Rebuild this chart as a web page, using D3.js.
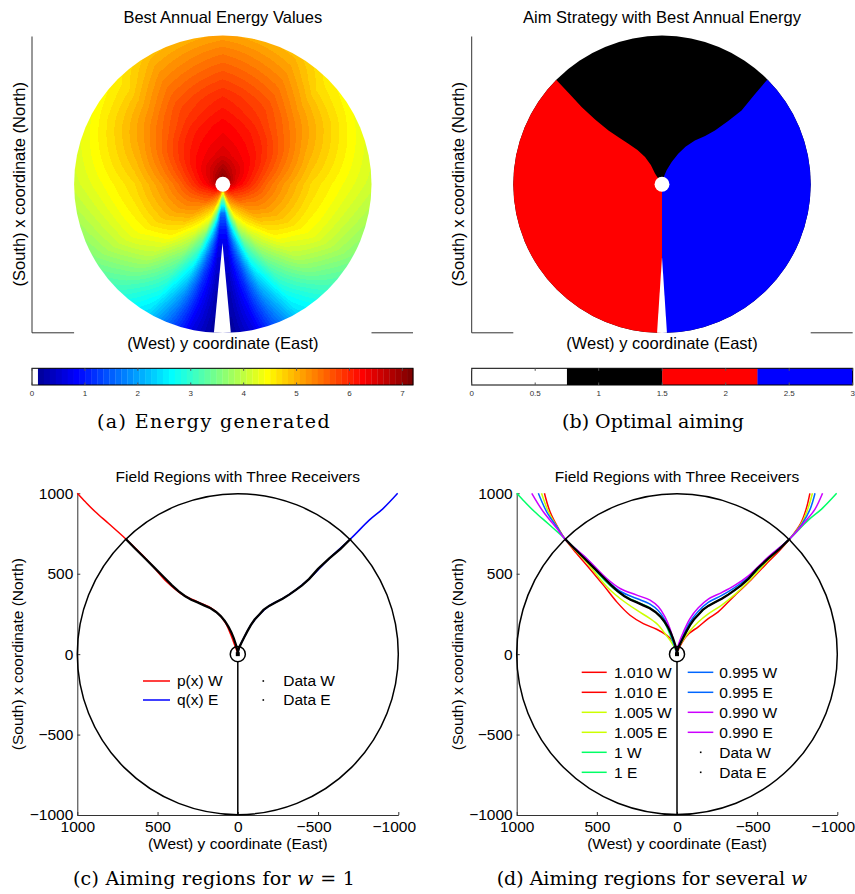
<!DOCTYPE html>
<html>
<head>
<meta charset="utf-8">
<script src="https://cdn.jsdelivr.net/npm/d3@7"></script>
<style>
  body { margin: 0; background: #fff; }
  svg { display: block; font-family: "Liberation Sans", Arial, sans-serif; }
  .cap { font-family: "DejaVu Serif", serif; }
</style>
</head>
<body>
<script>
"use strict";

// ---------- data ----------

// (a) energy, sampled on a polar grid: angle from North (deg, mirrored W/E), radius / field radius
var energyAngles = [0, 30, 45, 60, 90, 120, 135, 150, 160, 168, 176];
var energyRadii  = [0.04, 0.1, 0.2, 0.3, 0.4, 0.5, 0.6, 0.7, 0.8, 0.9, 1.0];
var energyGrid = [
  [7.1, 6.9, 6.5, 6.35, 6.25, 6.1, 5.95, 5.75, 5.55, 5.35, 5.1],
  [7.0, 6.7, 6.35, 6.2, 6.05, 5.85, 5.7, 5.5, 5.3, 5.1, 4.9],
  [6.95, 6.6, 6.3, 6.1, 5.9, 5.65, 5.45, 5.2, 4.95, 4.7, 4.55],
  [6.9, 6.5, 6.2, 5.95, 5.7, 5.45, 5.2, 5.0, 4.8, 4.6, 4.4],
  [6.7, 6.3, 5.9, 5.5, 5.2, 4.95, 4.7, 4.55, 4.4, 4.25, 4.1],
  [6.4, 5.9, 5.5, 5.25, 5.0, 4.75, 4.5, 4.3, 4.05, 3.8, 3.55],
  [6.2, 5.8, 5.3, 5.0, 4.7, 4.45, 4.15, 3.9, 3.6, 3.3, 3.05],
  [6.0, 5.5, 4.9, 4.5, 4.1, 3.75, 3.4, 3.1, 2.85, 2.6, 2.4],
  [5.8, 5.3, 4.6, 4.0, 3.4, 2.95, 2.55, 2.2, 1.9, 1.65, 1.45],
  [5.5, 4.7, 3.5, 2.6, 2.0, 1.6, 1.3, 1.1, 0.95, 0.8, 0.65],
  [5.0, 3.5, 1.6, 1.0, 0.7, 0.55, 0.45, 0.35, 0.28, 0.22, 0.15]
];
var energyMax = 7.2;
var energyTicks = [0, 1, 2, 3, 4, 5, 6, 7];

// empty south corridor and receiver hole (field units, y = West+, x = North+)
var gapA = [[2, -395], [61, -1010], [-55, -1010]];
var gapB = [[0, -490], [34, -1010], [-34, -1010]];
var holeRadius = 50;

// (b) aim strategy borders, from field edge to receiver
var aimBorderW = [[707,698],[620,605],[539,519],[450,435],[360,362],[290,315],[226,273],[165,230],[114,183],[75,130],[47,72],[20,30],[0,0]];
var aimBorderE = [[-703,698],[-620,600],[-535,497],[-445,425],[-356,362],[-290,325],[-221,295],[-160,255],[-109,206],[-65,150],[-31,94],[-10,45],[0,0]];
var aimBins  = [0, 0.75, 1.5, 2.25, 3];
var aimTicks = [0, 0.5, 1, 1.5, 2, 2.5, 3];

// (c),(d) fitted boundaries for each weight w, West and East
var wLabels = ["1.010", "1.005", "1", "0.995", "0.990"];
var fitW = [
  [[827,1000],[792,885],[740,782],[698,715],[630,630],[563,553],[459,429],[376,325],[293,242],[210,190],[127,155],[65,118],[23,77],[0,14]],
  [[845,1000],[802,885],[745,787],[698,715],[563,570],[438,419],[355,346],[251,273],[168,221],[116,180],[75,128],[44,87],[19,46],[0,8]],
  [[1000,1000],[950,947],[888,885],[805,812],[701,719],[563,584],[438,445],[355,377],[251,325],[168,288],[116,247],[75,191],[44,122],[19,56],[0,6]],
  [[865,1000],[813,885],[750,792],[698,715],[563,591],[438,460],[355,391],[251,346],[168,311],[116,270],[75,212],[44,138],[19,66],[0,6]],
  [[906,1000],[834,885],[750,782],[698,715],[563,595],[438,470],[355,408],[251,367],[168,336],[116,294],[75,232],[44,159],[19,76],[0,6]]
];
var fitE = [
  [[-829,1000],[-805,900],[-770,810],[-705,719],[-640,645],[-570,575],[-460,460],[-351,356],[-257,263],[-195,221],[-133,170],[-75,128],[-34,77],[-5,20]],
  [[-845,1000],[-815,900],[-775,810],[-705,719],[-570,585],[-445,450],[-362,372],[-279,305],[-195,250],[-133,200],[-81,145],[-40,90],[-8,35],[0,8]],
  [[-996,1000],[-905,905],[-819,833],[-705,719],[-570,595],[-445,468],[-362,400],[-279,345],[-195,300],[-133,245],[-81,180],[-40,105],[-8,40],[0,8]],
  [[-861,1000],[-830,900],[-780,810],[-705,719],[-570,600],[-445,478],[-362,415],[-279,365],[-195,322],[-133,267],[-81,200],[-40,120],[-8,45],[0,8]],
  [[-908,1000],[-860,900],[-798,823],[-705,719],[-570,605],[-445,487],[-362,429],[-279,383],[-195,342],[-133,288],[-81,221],[-40,138],[-8,56],[0,8]]
];
var dataW = [[701,719],[640,657],[580,598],[520,538],[460,478],[410,428],[370,392],[330,362],[290,338],[250,322],[210,303],[170,285],[135,262],[105,235],[80,205],[58,170],[40,135],[25,98],[12,60],[3,25],[0,8]];
var dataE = [[-705,719],[-640,655],[-570,595],[-500,530],[-445,468],[-400,428],[-362,400],[-320,370],[-279,345],[-237,322],[-195,300],[-160,275],[-133,245],[-105,215],[-81,180],[-60,143],[-40,105],[-22,70],[-8,40],[0,10]];
var fieldTicks = [1000, 500, 0, -500, -1000];
var fieldRadius = 1000;
var markerRadius = 47;

// ---------- styles ----------
var wColors = ["#ff0000", "#ccff00", "#00ff66", "#0066ff", "#cc00ff"];
var pColor = "#ff0000", qColor = "#0000ff";
var aimColors = ["#ffffff", "#000000", "#ff0000", "#0000ff"];
var axisColor = "#333";

// MATLAB jet(64) with first entry white
var jet = d3.range(1, 65).map(function(k){
  var r = k <= 24 ? 0 : k <= 40 ? (k - 24) / 16 : k <= 56 ? 1 : (72 - k) / 16;
  var g = k <= 8 ? 0 : k <= 24 ? (k - 8) / 16 : k <= 40 ? 1 : k <= 56 ? (56 - k) / 16 : 0;
  var b = k <= 8 ? (k + 8) / 16 : k <= 24 ? 1 : k <= 40 ? (40 - k) / 16 : 0;
  return d3.rgb(r * 255, g * 255, b * 255).formatHex();
});
jet[0] = "#ffffff";
var energyColor = d3.scaleQuantize().domain([0, energyMax]).range(jet);

var width = 855, height = 894;
var svg = d3.select("body").append("svg").attr("width", width).attr("height", height);
svg.append("rect").attr("width", width).attr("height", height).attr("fill", "#fff");
var defs = svg.append("defs");

function fmt(d){ return d < 0 ? "\u2212" + Math.abs(d) : String(d); }

function locate(arr, v){
  if (v <= arr[0]) return [0, 0, 0];
  if (v >= arr[arr.length - 1]) return [arr.length - 1, arr.length - 1, 0];
  var i = d3.bisectRight(arr, v) - 1;
  return [i, i + 1, (v - arr[i]) / (arr[i + 1] - arr[i])];
}
function energyAt(rr, th){
  var a = locate(energyAngles, th), r = locate(energyRadii, rr);
  var v0 = energyGrid[a[0]][r[0]] * (1 - r[2]) + energyGrid[a[0]][r[1]] * r[2];
  var v1 = energyGrid[a[1]][r[0]] * (1 - r[2]) + energyGrid[a[1]][r[1]] * r[2];
  return v0 * (1 - a[2]) + v1 * a[2];
}

// ---------- top panels ----------
function fieldPanel(id, box, title){
  var g = svg.append("g");
  var xs = d3.scaleLinear().domain([fieldRadius, -fieldRadius]).range([box.cx - box.r, box.cx + box.r]);
  var ys = d3.scaleLinear().domain([-fieldRadius, fieldRadius]).range([box.cy + box.r, box.cy - box.r]);
  var line = d3.line().x(function(d){ return xs(d[0]); }).y(function(d){ return ys(d[1]); });

  defs.append("clipPath").attr("id", id).append("circle")
    .attr("cx", xs(0)).attr("cy", ys(0)).attr("r", xs(-fieldRadius) - xs(0));

  // axes (box off)
  g.append("line").attr("x1", box.left).attr("x2", box.left).attr("y1", box.top).attr("y2", box.bottom)
    .attr("stroke", axisColor);
  g.append("line").attr("x1", box.left).attr("x2", xs(fieldRadius)).attr("y1", box.bottom).attr("y2", box.bottom)
    .attr("stroke", axisColor);
  g.append("line").attr("x1", xs(-fieldRadius)).attr("x2", box.right).attr("y1", box.bottom).attr("y2", box.bottom)
    .attr("stroke", axisColor);

  g.append("text").attr("x", box.cx).attr("y", 23).attr("text-anchor", "middle")
    .attr("font-size", 16.5).text(title);
  g.append("text").attr("x", box.cx).attr("y", 349).attr("text-anchor", "middle")
    .attr("font-size", 16.5).text("(West) y coordinate (East)");
  g.append("text").attr("transform", "translate(" + (box.left - 13) + "," + box.cy + ") rotate(-90)")
    .attr("dy", "0.35em").attr("text-anchor", "middle").attr("font-size", 16.5)
    .text("(South) x coordinate (North)");
  return {g: g, xs: xs, ys: ys, line: line};
}

function colorbar(x0, x1, domain, ticks, rects){
  var g = svg.append("g");
  var cs = d3.scaleLinear().domain(domain).range([x0, x1]);
  var y0 = 368.3, y1 = 385;
  g.selectAll("rect.c").data(rects).enter().append("rect")
    .attr("x", function(d){ return cs(d.from); })
    .attr("width", function(d){ return cs(d.to) - cs(d.from) + 0.3; })
    .attr("y", y0).attr("height", y1 - y0)
    .attr("fill", function(d){ return d.color; });
  g.append("rect").attr("x", x0).attr("y", y0).attr("width", x1 - x0).attr("height", y1 - y0)
    .attr("fill", "none").attr("stroke", "#000").attr("stroke-width", 1);
  g.selectAll("line.t1").data(ticks).enter().append("line")
    .attr("x1", cs).attr("x2", cs).attr("y1", y0).attr("y2", y0 + 2.5).attr("stroke", "#555");
  g.selectAll("line.t2").data(ticks).enter().append("line")
    .attr("x1", cs).attr("x2", cs).attr("y1", y1).attr("y2", y1 - 2.5).attr("stroke", "#555");
  g.selectAll("text").data(ticks).enter().append("text")
    .attr("x", cs).attr("y", 396).attr("text-anchor", "middle").attr("font-size", 8)
    .attr("fill", "#333").text(String);
}

// (a) Energy
var pa = fieldPanel("clipA", {cx: 222.8, cy: 184.3, r: 148.7, left: 32, right: 413, top: 36.5, bottom: 332.8},
  "Best Annual Energy Values");
(function(){
  var x0 = Math.floor(pa.xs(fieldRadius)), y0 = Math.floor(pa.ys(fieldRadius));
  var n = Math.ceil(pa.xs(-fieldRadius) - x0) + 2;
  var canvas = document.createElement("canvas");
  canvas.width = n; canvas.height = n;
  var ctx = canvas.getContext("2d");
  var img = ctx.createImageData(n, n);
  for (var j = 0; j < n; j++){
    for (var i = 0; i < n; i++){
      var fy = pa.xs.invert(x0 + i + 0.5), fx = pa.ys.invert(y0 + j + 0.5);
      var rr = Math.sqrt(fy * fy + fx * fx) / fieldRadius;
      if (rr > 1.01) continue;
      var th = Math.atan2(Math.abs(fy), fx) * 180 / Math.PI;
      var c = d3.rgb(energyColor(energyAt(rr, th)));
      var p = (j * n + i) * 4;
      img.data[p] = c.r; img.data[p + 1] = c.g; img.data[p + 2] = c.b; img.data[p + 3] = 255;
    }
  }
  ctx.putImageData(img, 0, 0);
  pa.g.append("image").attr("href", canvas.toDataURL()).attr("x", x0).attr("y", y0)
    .attr("width", n).attr("height", n).attr("clip-path", "url(#clipA)");
  pa.g.append("path").attr("d", pa.line(gapA) + "Z").attr("fill", "#fff").attr("clip-path", "url(#clipA)");
  pa.g.append("circle").attr("cx", pa.xs(0)).attr("cy", pa.ys(0))
    .attr("r", pa.xs(-holeRadius) - pa.xs(0)).attr("fill", "#fff");
})();
colorbar(32, 413, [0, energyMax], energyTicks, jet.map(function(c, i){
  return {from: i * energyMax / jet.length, to: (i + 1) * energyMax / jet.length, color: c};
}));

// (b) Aiming
var pb = fieldPanel("clipB", {cx: 662, cy: 184.3, r: 148.7, left: 471.7, right: 852.7, top: 36.5, bottom: 332.8},
  "Aim Strategy with Best Annual Energy");
(function(){
  var far = 1300;
  pb.g.append("circle").attr("cx", pb.xs(0)).attr("cy", pb.ys(0))
    .attr("r", pb.xs(-fieldRadius) - pb.xs(0)).attr("fill", aimColors[1]);
  var west = aimBorderW.slice().reverse().concat([[far, far], [far, -far], [0, -far]]);
  var east = aimBorderE.slice().reverse().concat([[-far, far], [-far, -far], [0, -far]]);
  pb.g.append("path").attr("d", pb.line(west) + "Z").attr("fill", aimColors[2]).attr("clip-path", "url(#clipB)");
  pb.g.append("path").attr("d", pb.line(east) + "Z").attr("fill", aimColors[3]).attr("clip-path", "url(#clipB)");
  pb.g.append("path").attr("d", pb.line(gapB) + "Z").attr("fill", "#fff").attr("clip-path", "url(#clipB)");
  pb.g.append("circle").attr("cx", pb.xs(0)).attr("cy", pb.ys(0))
    .attr("r", pb.xs(-holeRadius) - pb.xs(0)).attr("fill", "#fff");
})();
colorbar(471.7, 852.7, [0, 3], aimTicks, d3.range(4).map(function(i){
  return {from: aimBins[i], to: aimBins[i + 1], color: aimColors[i]};
}));

// captions
function caption(x, y, parts, spacing){
  var t = svg.append("text").attr("class", "cap").attr("x", x).attr("y", y)
    .attr("text-anchor", "middle").attr("font-size", 19)
    .attr("letter-spacing", spacing || null);
  parts.forEach(function(p){
    t.append("tspan").attr("font-style", p.italic ? "italic" : null).text(p.text);
  });
}
caption(214, 428, [{text: "(a)  Energy generated"}], 1.4);
caption(653, 428, [{text: "(b)  Optimal aiming"}]);
caption(214, 885, [{text: "(c)  Aiming regions for "}, {text: "w", italic: true}, {text: " = 1"}], 0.3);
caption(652, 885, [{text: "(d)  Aiming regions for several "}, {text: "w", italic: true}]);

// ---------- bottom panels ----------
function regionPanel(box){
  var g = svg.append("g");
  var xs = d3.scaleLinear().domain([fieldRadius, -fieldRadius]).range([box.left, box.right]);
  var ys = d3.scaleLinear().domain([-fieldRadius, fieldRadius]).range([box.bottom, box.top]);
  var smooth = d3.line().curve(d3.curveCatmullRom)
    .x(function(d){ return xs(d[0]); }).y(function(d){ return ys(d[1]); });
  var plain = d3.line().x(function(d){ return xs(d[0]); }).y(function(d){ return ys(d[1]); });

  var ya = g.append("g").attr("transform", "translate(" + box.left + ",0)")
    .call(d3.axisLeft(ys).tickValues(fieldTicks).tickFormat(fmt).tickSizeInner(-3).tickSizeOuter(0).tickPadding(4));
  var xa = g.append("g").attr("transform", "translate(0," + box.bottom + ")")
    .call(d3.axisBottom(xs).tickValues(fieldTicks).tickFormat(fmt).tickSizeInner(-3).tickSizeOuter(0).tickPadding(6));
  [ya, xa].forEach(function(a){
    a.attr("font-size", 15.5).attr("font-family", null);
    a.selectAll("path,line").attr("stroke", axisColor);
    a.selectAll("text").attr("fill", "#000");
  });
  // the minus sign hangs left of the centred digits
  xa.selectAll(".tick text").attr("dx", function(d){ return d < 0 ? -4.5 : 0; });

  var cx = (box.left + box.right) / 2;
  g.append("text").attr("x", cx).attr("y", 481.5).attr("text-anchor", "middle")
    .attr("font-size", 15.5).text("Field Regions with Three Receivers");
  g.append("text").attr("x", cx).attr("y", 848.5).attr("text-anchor", "middle")
    .attr("font-size", 15.5).text("(West) y coordinate (East)");
  g.append("text").attr("transform", "translate(" + box.labelX + "," + ys(0) + ") rotate(-90)")
    .attr("dy", "0.35em").attr("text-anchor", "middle").attr("font-size", 15.5)
    .text("(South) x coordinate (North)");

  g.append("circle").attr("cx", xs(0)).attr("cy", ys(0)).attr("r", xs(-fieldRadius) - xs(0))
    .attr("fill", "none").attr("stroke", "#000").attr("stroke-width", 1.5);
  return {g: g, xs: xs, ys: ys, smooth: smooth, plain: plain};
}

function finishCenter(p){
  p.g.append("line").attr("x1", p.xs(0)).attr("x2", p.xs(0))
    .attr("y1", p.ys(-markerRadius)).attr("y2", p.ys(-fieldRadius))
    .attr("stroke", "#000").attr("stroke-width", 1.5);
  p.g.append("circle").attr("cx", p.xs(0)).attr("cy", p.ys(0)).attr("r", p.xs(-markerRadius) - p.xs(0))
    .attr("fill", "none").attr("stroke", "#000").attr("stroke-width", 1.5);
  p.g.append("rect").attr("x", p.xs(0) - 2).attr("y", p.ys(0) - 2).attr("width", 4).attr("height", 4).attr("fill", "#000");
}

function drawData(p){
  [dataW, dataE].forEach(function(d){
    p.g.append("path").attr("d", p.plain(d)).attr("fill", "none")
      .attr("stroke", "#000").attr("stroke-width", 2.3);
  });
}

function legend(p, entries, rows, cols){
  entries.forEach(function(e, i){
    var c = cols[Math.floor(i / rows.per)];
    var y = rows.y0 + (i % rows.per) * rows.h;
    if (e.dot) {
      p.g.append("rect").attr("x", c.dot - 0.8).attr("y", y - 0.8).attr("width", 1.6).attr("height", 1.6).attr("fill", "#000");
    } else {
      p.g.append("line").attr("x1", c.l0).attr("x2", c.l1).attr("y1", y).attr("y2", y)
        .attr("stroke", e.color).attr("stroke-width", 1.5);
    }
    p.g.append("text").attr("x", c.t).attr("y", y).attr("dy", "0.35em").attr("font-size", 15.5).text(e.label);
  });
}

// (c) w = 1
var pc = regionPanel({left: 77.3, right: 398.3, top: 493.3, bottom: 815, labelX: 18});
pc.g.append("path").attr("d", pc.smooth(fitW[2])).attr("fill", "none").attr("stroke", pColor).attr("stroke-width", 1.5);
pc.g.append("path").attr("d", pc.smooth(fitE[2])).attr("fill", "none").attr("stroke", qColor).attr("stroke-width", 1.5);
drawData(pc);
finishCenter(pc);
legend(pc, [
  {label: "p(x) W", color: pColor}, {label: "q(x) E", color: qColor},
  {label: "Data W", dot: true}, {label: "Data E", dot: true}
], {y0: 681, per: 2, h: 19}, [{l0: 143, l1: 170, t: 177}, {dot: 263.3, t: 283.3}]);

// (d) several w
var pd = regionPanel({left: 516.7, right: 837.3, top: 493.3, bottom: 815, labelX: 458});
wLabels.forEach(function(w, i){
  [fitW[i], fitE[i]].forEach(function(d){
    pd.g.append("path").attr("d", pd.smooth(d)).attr("fill", "none")
      .attr("stroke", wColors[i]).attr("stroke-width", 1.5);
  });
});
drawData(pd);
finishCenter(pd);
var dEntries = [];
wLabels.forEach(function(w, i){
  dEntries.push({label: w + " W", color: wColors[i]});
  dEntries.push({label: w + " E", color: wColors[i]});
});
dEntries.push({label: "Data W", dot: true});
dEntries.push({label: "Data E", dot: true});
legend(pd, dEntries, {y0: 672.3, per: 6, h: 20},
  [{l0: 581.7, l1: 606.7, t: 614}, {l0: 687.7, l1: 713.3, t: 719.3, dot: 700.7}]);
</script>
</body>
</html>
